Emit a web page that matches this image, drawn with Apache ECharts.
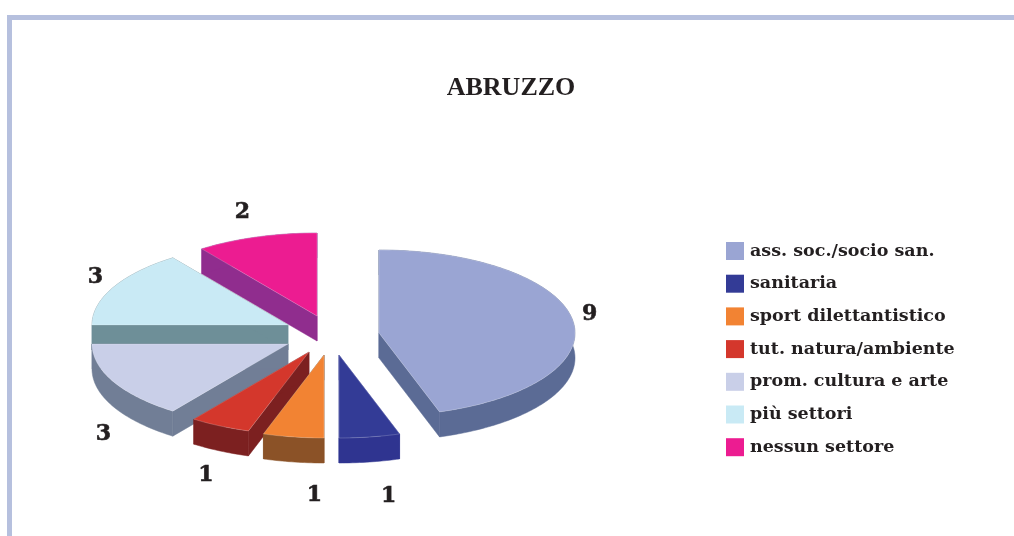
<!DOCTYPE html>
<html><head><meta charset="utf-8">
<style>html,body{margin:0;padding:0;background:#fff}#c{width:1014px;height:536px}</style>
<script src="https://cdn.jsdelivr.net/npm/echarts@6/dist/echarts.min.js"></script>
</head><body><div id="c"></div>
<script>
const titleText = 'ABRUZZO';
const categories = ['ass. soc./socio san.','sanitaria','sport dilettantistico','tut. natura/ambiente','prom. cultura e arte','più settori','nessun settore'];
const values = [9,1,1,1,3,3,2];

// styles
const topColors  = ['#9aa5d3','#333b96','#f28333','#d4372c','#c9cfe8','#c9eaf5','#ec1c91'];
const sideColors = ['#5b6b95','#2f3490','#8b5227','#7c2020','#717e96','#6e8f98','#902d8e'];
// layout: exploded apex of every slice, paint order, label offsets from the rim midpoint
const apexes = [[379,333],[339,355],[324,355],[309,352],[288,344],[288,325],[317,316]];
const paintZ = [3,7,6,5,4,2,1];
const labelOffsets = [[17,-6],[19,59],[21,58],[-14,49],[-10,53],[-18,-10],[-14,-25]];
const RX = 196, RY = 83, DEPTH = 25;
const SERIF = '"Liberation Serif", serif';
const HEAVY = '"DejaVu Serif", serif';
const INK = '#231f20';

const total = values.reduce((a,b)=>a+b,0);
function sliceElements(i, value){
  const before = values.slice(0,i).reduce((a,b)=>a+b,0);
  const a0 = before/total*360, a1 = (before+value)/total*360;
  const [ax,ay] = apexes[i];
  const pt = d => [ax+RX*Math.sin(d*Math.PI/180), ay-RY*Math.cos(d*Math.PI/180)];
  const arc = [];
  const n = Math.ceil(a1-a0);
  for(let k=0;k<=n;k++) arc.push(pt(a0+(a1-a0)*k/n));
  const down = p => [p[0],p[1]+DEPTH];
  const topPoly = [[ax,ay],...arc];
  const children = [];
  // extruded sides: rim plus both radial faces, all hidden parts lie under the top
  const rim = [...arc, ...arc.slice().reverse().map(down)];
  const side = (p,q) => [p,q,down(q),down(p)];
  [side([ax,ay],arc[0]), side([ax,ay],arc[arc.length-1]), rim].forEach(points=>{
    children.push({type:'polygon',shape:{points},style:{fill:sideColors[i],stroke:sideColors[i],lineWidth:0.5}});
  });
  children.push({type:'polygon',shape:{points:topPoly},style:{fill:topColors[i],stroke:'rgba(255,255,255,0.5)',lineWidth:0.4}});
  const mid = pt((a0+a1)/2);
  children.push({type:'text',style:{text:String(value),x:mid[0]+labelOffsets[i][0],y:mid[1]+labelOffsets[i][1],
    font:'bold 22px '+HEAVY,fill:INK,stroke:INK,lineWidth:0.6,align:'center',verticalAlign:'middle'}});
  return {type:'group',children};
}

const chart = echarts.init(document.getElementById('c'),null,{renderer:'canvas'});
chart.setOption({
  animation:false,
  backgroundColor:'#ffffff',
  title:{text:titleText,left:506,top:70,textAlign:'center',textStyle:{fontFamily:SERIF,fontWeight:'bold',fontSize:26,color:INK}},
  legend:{orient:'vertical',left:721,top:237,itemWidth:18,itemHeight:18,itemGap:14.7,icon:'rect',
    data:categories,selectedMode:false,
    textStyle:{fontFamily:HEAVY,fontWeight:'bold',fontSize:17.5,color:INK,padding:[3,0,0,1]}},
  graphic:[
    {type:'rect',shape:{x:7,y:15,width:1007,height:5},style:{fill:'#b6c0de'},silent:true},
    {type:'rect',shape:{x:7,y:15,width:5,height:521},style:{fill:'#b6c0de'},silent:true}
  ],
  series:categories.map((name,i)=>({
    type:'custom',name,coordinateSystem:'none',z:paintZ[i]+2,silent:true,
    itemStyle:{color:topColors[i]},
    data:[values[i]],
    renderItem:(params,api)=>sliceElements(i,api.value(0))
  }))
});
</script></body></html>
